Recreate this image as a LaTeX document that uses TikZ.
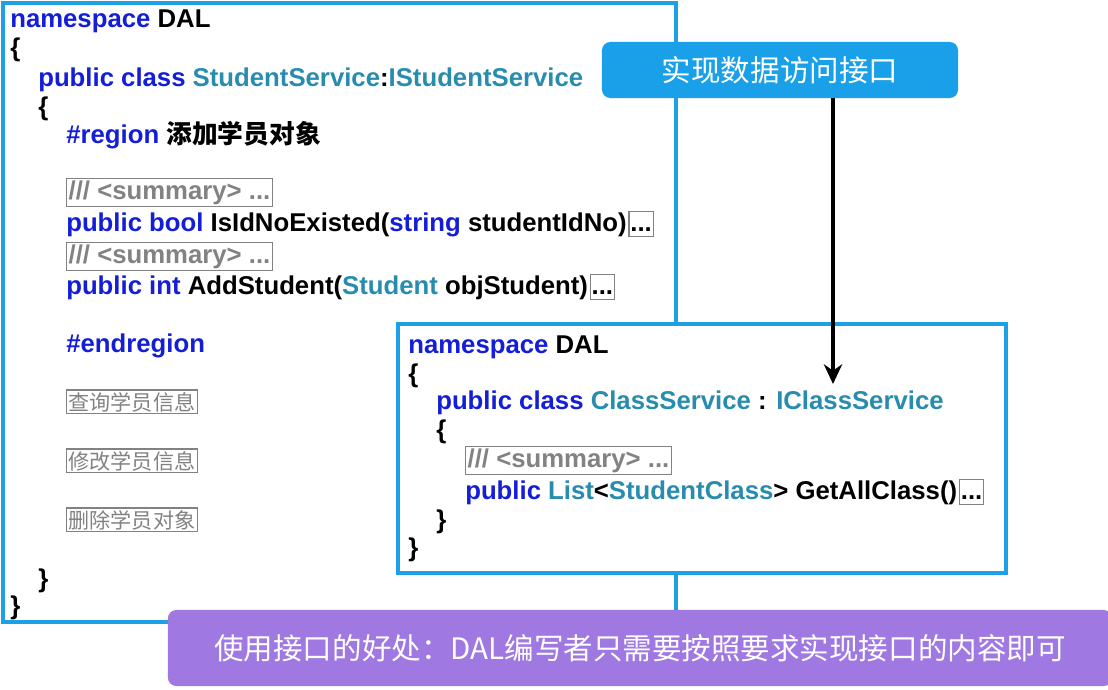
\documentclass[tikz,border=0pt]{standalone}
\usepackage{fontspec}
\setmainfont{Liberation Sans}
\newfontfamily\cjk{Noto Sans CJK SC}
\usetikzlibrary{arrows.meta,positioning}
\definecolor{kwblue}{RGB}{20,30,215}
\definecolor{tyteal}{RGB}{40,140,175}
\definecolor{frameblue}{RGB}{30,160,230}
\definecolor{callblue}{RGB}{25,160,232}
\definecolor{purplebar}{RGB}{160,120,225}
\definecolor{graytxt}{RGB}{130,130,130}
\newcommand{\kw}[1]{\textcolor{kwblue}{#1}}
\newcommand{\ty}[1]{\textcolor{tyteal}{#1}}
\tikzset{
  code/.style={anchor=base west, inner sep=0pt, font=\fontsize{18.3}{21}\selectfont\bfseries},
  fold/.style={code, draw=graytxt, text=graytxt, inner sep=1.5pt, line width=0.8pt},
  dots/.style={code, draw=graytxt, inner sep=1pt, line width=0.8pt, text height=13pt, text depth=3pt},
  frame/.style={draw=frameblue, line width=3.5pt, fill=white},
  banner/.style={rounded corners=6pt, text=white, font=\cjk\fontsize{21}{24}\selectfont}
}
\begin{document}
\begin{tikzpicture}[x=0.025cm, y=-0.025cm]
  \useasboundingbox[fill=white] (0,0) rectangle (1108,689);

  % left code window
  \draw[frame] (3,3) rectangle (676,622);
  \node[code] (ns1) at (10,28) {\kw{namespace} DAL};
  \node[code] (ob1) at (10,57) {\{};
  \node[code] (cls1) at (38,87) {\kw{public class} \ty{StudentService}:\ty{IStudentService}};
  \node[code] (ob2) at (38,116) {\{};
  \node[code] (reg) at (66,144) {\kw{\#region} {\cjk 添加学员对象}};
  \node[fold] (sum1) at (66,199) {/// <summary> ...};
  \node[code] (m1) at (66,231) {\kw{public bool} IsIdNoExisted(\kw{string} studentIdNo)};
  \node[dots, right=1pt of m1.base east, anchor=base west] (d1) {...};
  \node[fold] (sum2) at (66,263) {/// <summary> ...};
  \node[code] (m2) at (66,294) {\kw{public int} AddStudent(\ty{Student} objStudent)};
  \node[dots, right=1pt of m2.base east, anchor=base west] (d2) {...};
  \node[code] (endreg) at (66,352) {\kw{\#endregion}};
  \node[fold, font=\cjk\fontsize{15}{18}\selectfont] (q) at (66,410) {查询学员信息};
  \node[fold, font=\cjk\fontsize{15}{18}\selectfont] (u) at (66,469) {修改学员信息};
  \node[fold, font=\cjk\fontsize{15}{18}\selectfont] (del) at (66,528) {删除学员对象};
  \node[code] (cb2) at (38,587) {\}};
  \node[code] (cb1) at (10,614) {\}};

  % right code window
  \draw[frame] (398,324) rectangle (1006,573);
  \node[code] (ns2) at (408,353) {\kw{namespace} DAL};
  \node[code] (ob3) at (408,382) {\{};
  \node[code] (cls2) at (436,409) {\kw{public class} \ty{ClassService} : \ty{IClassService}};
  \node[code] (ob4) at (436,438) {\{};
  \node[fold] (sum3) at (465,467) {/// <summary> ...};
  \node[code] (m3) at (465,499) {\kw{public} \ty{List}<\ty{StudentClass}> GetAllClass()};
  \node[dots, right=1pt of m3.base east, anchor=base west] (d3) {...};
  \node[code] (cb4) at (436,528) {\}};
  \node[code] (cb3) at (408,556) {\}};

  % callout and arrow
  \node[banner, fill=callblue, minimum width=8.9cm, minimum height=1.4cm] (impl) at (780,70) {实现数据访问接口};
  \coordinate (tip) at (833,384);
  \draw[-{Stealth[length=14pt,width=13pt]}, line width=2.5pt] (impl.south -| tip) -- (tip);

  % purple note
  \node[banner, fill=purplebar, minimum width=23.6cm, minimum height=1.9cm] (note) at (640,648) {使用接口的好处：DAL编写者只需要按照要求实现接口的内容即可};
\end{tikzpicture}
\end{document}
